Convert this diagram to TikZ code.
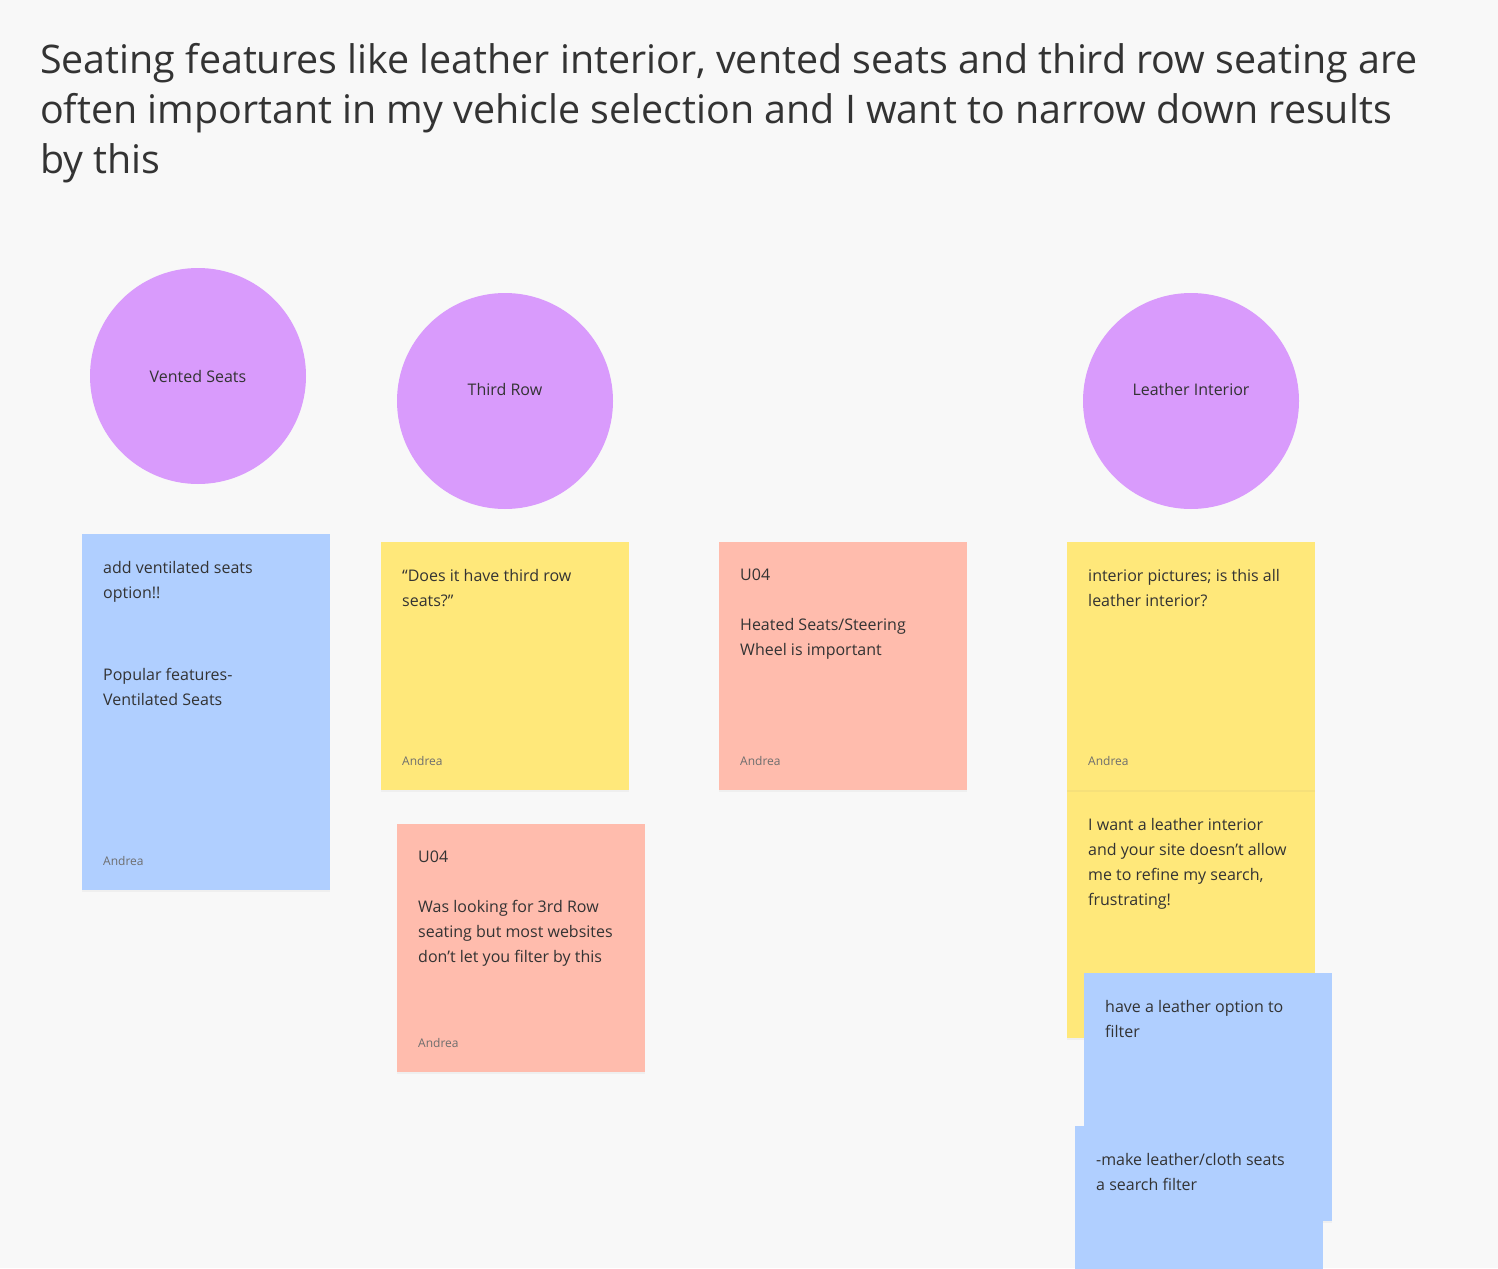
\documentclass[tikz,border=0pt]{standalone}
\usepackage{fontspec}
\setmainfont{Open Sans}
\usetikzlibrary{shadows}
\definecolor{board}{HTML}{F8F8F8}
\definecolor{ink}{HTML}{333333}
\definecolor{stickyblue}{HTML}{B0CFFF}
\definecolor{stickyyellow}{HTML}{FFE87A}
\definecolor{stickypink}{HTML}{FFBCAD}
\definecolor{topicpurple}{HTML}{D99BFC}
\definecolor{byline}{HTML}{6E6E6E}

\begin{document}
\begin{tikzpicture}[x=1pt,y=-1pt]
    \tikzstyle{sticky}=[rectangle,anchor=north west,minimum width=248pt,minimum height=248pt,inner sep=0pt,drop shadow={shadow xshift=0pt,shadow yshift=-2pt,opacity=0.07}]
    \tikzstyle{topic}=[circle,fill=topicpurple,minimum size=216pt,inner sep=0pt]
    \tikzstyle{topiclabel}=[inner sep=0pt,text=ink,font=\fontsize{16}{20}\selectfont]
    \tikzstyle{note}=[anchor=north west,inner sep=0pt,align=left,text=ink,font=\fontsize{16}{25}\selectfont]
    \tikzstyle{author}=[anchor=west,inner sep=0pt,text=byline,font=\fontsize{12}{14}\selectfont]
    \fill[board] (0,0) rectangle (1498,1268);
    \useasboundingbox (0,0) rectangle (1498,1268);
    \clip (0,0) rectangle (1498,1268);

    % title
    \node[anchor=north west,inner sep=0pt,align=left,text=ink,font=\fontsize{39.4}{50}\selectfont] (title) at (40,43)
        {Seating features like leather interior, vented seats and third row seating are\\often important in my vehicle selection and I want to narrow down results\\by this};

    % topics
    \node[topic] (vented) at (198,376) {};
    \node[topiclabel] (vented-label) at (198,376) {Vented Seats};
    \node[topic] (third) at (505,401) {};
    \node[topiclabel] (third-label) at (505,389) {Third Row};
    \node[topic] (leather) at (1191,401) {};
    \node[topiclabel] (leather-label) at (1191,389) {Leather Interior};

    % vented seats column
    \node[sticky,fill=stickyblue] (blue-1) at (82,534) {};
    \node[note] (blue-1-text) at (103,561) {add ventilated seats\\option!!};
    \node[sticky,fill=stickyblue] (blue-2) at (82,642) {};
    \node[note] (blue-2-text) at (103,668) {Popular features-\\Ventilated Seats};
    \node[author] (blue-2-by) at (103,861) {Andrea};

    % third row column
    \node[sticky,fill=stickyyellow] (yellow-1) at (381,542) {};
    \node[note] (yellow-1-text) at (402,569) {“Does it have third row\\seats?”};
    \node[author] (yellow-1-by) at (402,761) {Andrea};
    \node[sticky,fill=stickypink] (pink-2) at (397,824) {};
    \node[note] (pink-2-text) at (418,851) {U04\\[25pt]Was looking for 3rd Row\\seating but most websites\\don’t let you filter by this};
    \node[author] (pink-2-by) at (418,1043) {Andrea};

    % middle column
    \node[sticky,fill=stickypink] (pink-1) at (719,542) {};
    \node[note] (pink-1-text) at (740,569) {U04\\[25pt]Heated Seats/Steering\\Wheel is important};
    \node[author] (pink-1-by) at (740,761) {Andrea};

    % leather column
    \node[sticky,fill=stickyyellow] (yellow-3) at (1067,790) {};
    \node[note] (yellow-3-text) at (1088,818) {I want a leather interior\\and your site doesn’t allow\\me to refine my search,\\frustrating!};
    \node[sticky,fill=stickyyellow] (yellow-2) at (1067,542) {};
    \node[note] (yellow-2-text) at (1088,569) {interior pictures; is this all\\leather interior?};
    \node[author] (yellow-2-by) at (1088,761) {Andrea};
    \node[sticky,fill=stickyblue] (blue-3) at (1084,973) {};
    \node[note] (blue-3-text) at (1105,1000) {have a leather option to\\filter};
    \node[sticky,fill=stickyblue] (blue-4) at (1075,1126) {};
    \node[note] (blue-4-text) at (1096,1153) {-make leather/cloth seats\\a search filter};
\end{tikzpicture}
\end{document}
